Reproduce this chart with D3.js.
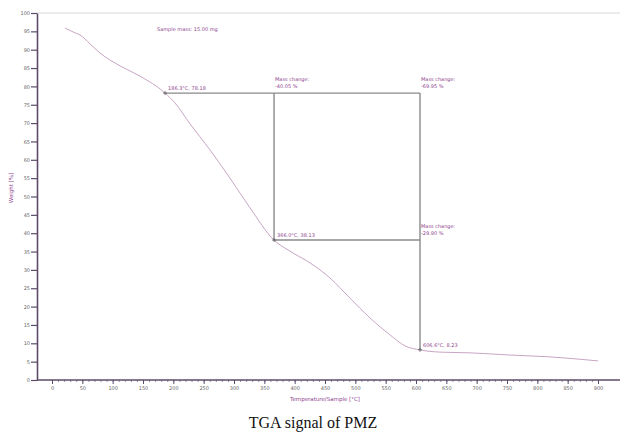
<!DOCTYPE html>
<html>
<head>
<meta charset="utf-8">
<script src="https://cdn.jsdelivr.net/npm/d3@7"></script>
<style>
  body { margin: 0; background: #fff; }
  svg { display: block; }
</style>
</head>
<body>
<div id="chart"></div>
<script>
// TGA curve (temperature in °C, weight in %)
var temps   = [21.4, 37.9, 46.2, 62.6, 79.1, 112.1, 145.0, 186.3, 202.7, 227.5, 260.4, 293.4, 326.4, 366.0,
               392.3, 425.3, 458.2, 491.2, 524.1, 557.1, 581.9, 606.6, 639.5, 689.0, 754.9, 820.8, 900.0];
var weights = [95.9, 94.6, 94.0, 91.6, 89.1, 85.6, 82.8, 78.2, 75.5, 69.8, 62.7, 55.0, 46.9, 38.1,
               35.1, 31.9, 27.8, 22.3, 16.9, 12.3, 9.3, 8.2, 7.6, 7.4, 6.8, 6.3, 5.2];

// evaluation points
var pointT = [186.3, 366.0, 606.6];
var pointW = [78.18, 38.13, 8.23];
var stepLabels = ["-40.05 %", "-69.95 %", "-29.90 %"];

var xTicks = d3.range(0, 901, 50);
var yTicks = d3.range(0, 101, 5);
var sampleText = "Sample mass: 15.00 mg";
var xTitle = "Temperature/Sample [°C]";
var yTitle = "Weight [%]";
var caption = "TGA signal of PMZ";

var W = 627, H = 437;
var margin = {top: 13, left: 37, right: 7, bottom: 57};
var x0 = 52, x1 = 598;   // pixel span of 0..900
var svg = d3.select("#chart").append("svg").attr("width", W).attr("height", H);

var x = d3.scaleLinear().domain([0, 900]).range([x0, x1]);
var y = d3.scaleLinear().domain([0, 100]).range([380, margin.top]);

var purple = "#8e3f8e";
var axisCol = "#5b4b68";

// top border
svg.append("line")
  .attr("x1", margin.left).attr("x2", W - margin.right)
  .attr("y1", margin.top).attr("y2", margin.top)
  .attr("stroke", "#d8d8dc").attr("stroke-width", 1);

// minor x ticks
svg.append("g")
  .attr("transform", "translate(0,380)")
  .call(d3.axisBottom(x).tickValues(d3.range(10, 900, 10)).tickSize(2).tickFormat(""))
  .call(g => g.select(".domain").remove())
  .selectAll("line").attr("stroke", "#9a8fa5");

// x axis
var gx = svg.append("g")
  .attr("transform", "translate(0,380)")
  .call(d3.axisBottom(x).tickValues(xTicks).tickSize(4).tickSizeOuter(0));
gx.select(".domain").attr("d", "M" + margin.left + ",0H" + (W - margin.right)).attr("stroke", axisCol).attr("stroke-width", 1.6);
gx.selectAll(".tick line").attr("stroke", axisCol);
gx.selectAll("text").attr("font-size", 5).attr("fill", "#666").attr("font-family", "DejaVu Sans").attr("y", 6).attr("dy", "0.71em");

// y axis
var gy = svg.append("g")
  .attr("transform", "translate(" + margin.left + ",0)")
  .call(d3.axisLeft(y).tickValues(yTicks).tickSize(6).tickSizeOuter(0));
gy.select(".domain").attr("stroke", axisCol).attr("stroke-width", 1.6);
gy.selectAll(".tick line").attr("stroke", axisCol).attr("stroke-width", 1.2);
gy.selectAll("text").attr("font-size", 5).attr("fill", "#666").attr("font-family", "DejaVu Sans").attr("x", -7);

// axis titles
svg.append("text")
  .attr("x", 325).attr("y", 401)
  .attr("text-anchor", "middle")
  .attr("font-size", 5.5).attr("font-family", "DejaVu Sans").attr("fill", purple)
  .text(xTitle);
svg.append("text")
  .attr("transform", "translate(13," + 188 + ") rotate(-90)")
  .attr("text-anchor", "middle")
  .attr("font-size", 5.5).attr("font-family", "DejaVu Sans").attr("fill", purple)
  .text(yTitle);

// evaluation box lines
var boxCol = "#8a8a8a";
var segs = [
  [pointT[0], pointW[0], pointT[2], pointW[0]],
  [pointT[1], pointW[0], pointT[1], pointW[1]],
  [pointT[1], pointW[1], pointT[2], pointW[1]],
  [pointT[2], pointW[0], pointT[2], pointW[2]]
];
svg.selectAll("line.box")
  .data(segs).enter().append("line")
  .attr("class", "box")
  .attr("x1", d => x(d[0])).attr("y1", d => y(d[1]))
  .attr("x2", d => x(d[2])).attr("y2", d => y(d[3]))
  .attr("stroke", boxCol).attr("stroke-width", 1.4);

// curve
var line = d3.line().x((d, i) => x(temps[i])).y(d => y(d)).curve(d3.curveMonotoneX);
svg.append("path")
  .datum(weights)
  .attr("d", line)
  .attr("fill", "none")
  .attr("stroke", "#c9a6c4")
  .attr("stroke-width", 1);

// point markers
svg.selectAll("path.mark")
  .data(pointT).enter().append("path")
  .attr("class", "mark")
  .attr("d", (d, i) => "M" + (x(d) - 2) + "," + y(pointW[i]) + "h4M" + x(d) + "," + (y(pointW[i]) - 2) + "v4")
  .attr("stroke", "#555").attr("stroke-width", 0.8);

// labels
var txt = svg.append("g").attr("font-size", 5).attr("font-family", "DejaVu Sans").attr("fill", purple);
pointT.forEach(function(t, i) {
  txt.append("text")
    .attr("x", x(t) + 3).attr("y", y(pointW[i]) - 3)
    .text(t.toFixed(1) + "°C,  " + pointW[i].toFixed(2));
});
// step labels: first at top of middle vertical, second at top of right vertical, third at right mid
var stepPos = [[pointT[1], pointW[0]], [pointT[2], pointW[0]], [pointT[2], pointW[1]]];
stepPos.forEach(function(p, i) {
  txt.append("text").attr("x", x(p[0]) + 1).attr("y", y(p[1]) - 12).text("Mass change:");
  txt.append("text").attr("x", x(p[0]) + 1).attr("y", y(p[1]) - 5).text(stepLabels[i]);
});
txt.append("text").attr("x", 157).attr("y", 31).text(sampleText);

// caption
svg.append("text")
  .attr("x", 313).attr("y", 428)
  .attr("text-anchor", "middle")
  .attr("font-family", "Liberation Serif")
  .attr("font-size", 16)
  .attr("fill", "#111")
  .text(caption);
</script>
</body>
</html>
